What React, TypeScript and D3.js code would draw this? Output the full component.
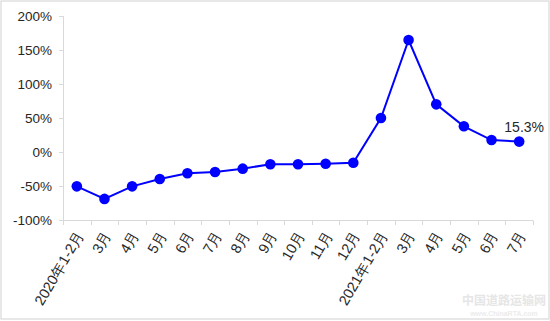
import React from "react";
import * as d3 from "d3";

const categories = [
  "2020年1-2月", "3月", "4月", "5月", "6月", "7月", "8月", "9月", "10月", "11月", "12月",
  "2021年1-2月", "3月", "4月", "5月", "6月", "7月",
];
const values = [-50.5, -69, -50.5, -39.7, -31.3, -29.4, -24.5, -18.1, -18.1, -17.2, -15.7, 50, 164.7, 70.1, 37.8, 17.6, 15.3];
const yTicks = [-100, -50, 0, 50, 100, 150, 200];
const lastLabel = "15.3%";

const W = 550;
const H = 321;
const FONT = "'Liberation Sans', Arial, sans-serif";

export default function App() {
  const x = d3.scaleBand<number>().domain(d3.range(categories.length)).range([63, 533]).padding(0);
  const y = d3.scaleLinear().domain([-100, 200]).range([220, 16]);
  const cx = (i: number) => (x(i) as number) + x.bandwidth() / 2;
  const line = d3.line<number>().x((_, i) => cx(i)).y((d) => y(d));
  const boundaries = d3.range(categories.length + 1).map((i) => 63 + i * x.bandwidth());
  const lastI = values.length - 1;

  return (
    <svg width={W} height={H} style={{ position: "absolute", left: 0, top: 0, background: "#fff" }}>
      <rect x={1} y={1} width={548} height={318} fill="#fff" stroke="#d9d9d9" strokeWidth={1.2} />
      {/* y axis */}
      <line x1={63.5} x2={63.5} y1={y(200)} y2={y(-100)} stroke="#d9d9d9" strokeWidth={1} />
      {yTicks.map((t) => (
        <g key={t}>
          <line x1={59} x2={63.5} y1={Math.round(y(t)) + 0.5} y2={Math.round(y(t)) + 0.5} stroke="#d9d9d9" />
          <text x={52} y={y(t)} dy="0.36em" textAnchor="end" fontFamily={FONT} fontSize={13.5} fill="#262626">
            {t}%
          </text>
        </g>
      ))}
      {/* x axis */}
      <line x1={59} x2={533} y1={220.5} y2={220.5} stroke="#d9d9d9" />
      {boundaries.map((b, i) => (
        <line key={i} x1={Math.round(b) + 0.5} x2={Math.round(b) + 0.5} y1={220.5} y2={225} stroke="#d9d9d9" />
      ))}
      {categories.map((c, i) => (
        <text
          key={i}
          transform={`translate(${cx(i) + 3},${232}) rotate(-60)`}
          dy="0.35em"
          textAnchor="end"
          fontFamily={FONT}
          fontSize={14.5}
          fill="#262626"
        >
          {c}
        </text>
      ))}
      {/* series */}
      <path d={line(values) || ""} fill="none" stroke="#0000ff" strokeWidth={2} />
      {values.map((v, i) => (
        <circle key={i} cx={cx(i)} cy={y(v)} r={5.3} fill="#0000ff" />
      ))}
      <text x={cx(lastI) + 5} y={y(values[lastI]) - 14} dy="0.35em" textAnchor="middle" fontFamily={FONT} fontSize={14} fill="#262626">
        {lastLabel}
      </text>
      {/* watermark */}
      <text x={504} y={305} textAnchor="middle" fontFamily="'Noto Sans CJK SC', sans-serif" fontWeight="bold" fontSize={12} fill="#e6e6e6">
        中国道路运输网
      </text>
      <text x={504} y={316} textAnchor="middle" fontFamily={FONT} fontWeight="bold" fontSize={7} fill="#ececec">
        www.ChinaRTA.com
      </text>
    </svg>
  );
}
